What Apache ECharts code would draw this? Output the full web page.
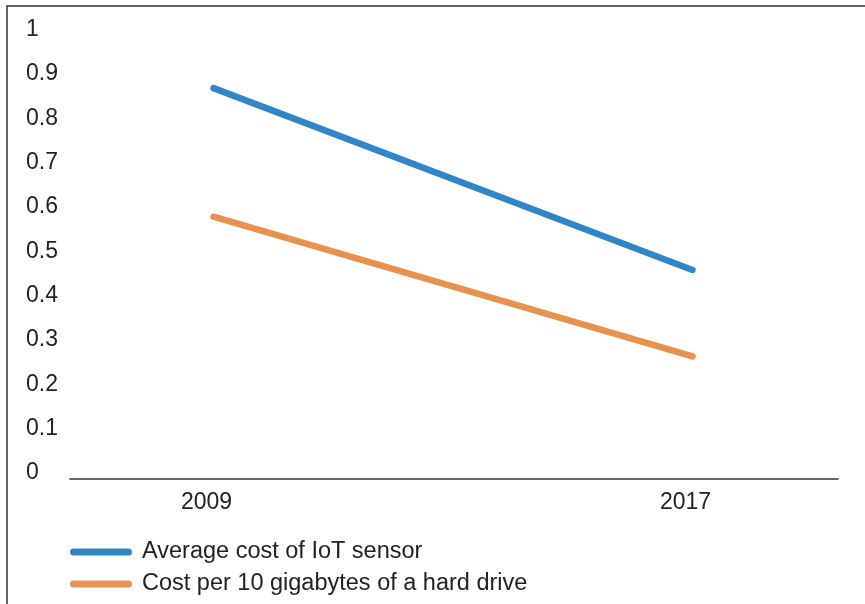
<!DOCTYPE html>
<html>
<head>
<meta charset="utf-8">
<script src="https://cdn.jsdelivr.net/npm/echarts@6/dist/echarts.min.js"></script>
<style>
  html, body { margin: 0; padding: 0; background: #fff; }
  #chart { width: 865px; height: 604px; }
</style>
</head>
<body>
<div id="chart"></div>
<script>
// Years on the horizontal axis
const years = [2009, 2017];
// Average cost of an IoT sensor (USD)
const sensorCost = [0.86, 0.45];
// Cost per 10 GB of hard-drive storage (USD)
const driveCost = [0.57, 0.255];
const seriesNames = ['Average cost of IoT sensor', 'Cost per 10 gigabytes of a hard drive'];

const textColor = '#222';
const fontFamily = '"Liberation Sans", Arial, sans-serif';

const chart = echarts.init(document.getElementById('chart'));

const pairs = vals => years.map((y, i) => [y, vals[i]]);

chart.setOption({
  animation: false,
  backgroundColor: '#fff',
  textStyle: { fontFamily: fontFamily, color: textColor },
  graphic: [{
    type: 'rect',
    shape: { x: 7, y: 6, width: 1000, height: 800 },
    style: { fill: 'none', stroke: '#333', lineWidth: 1.5 },
    silent: true
  }],
  grid: { left: 70, right: 27, top: 26, bottom: 134.5 },
  xAxis: {
    type: 'value',
    min: 2006.603,
    max: 2019.43,
    offset: 9.5,
    axisLine: { show: true, onZero: false, lineStyle: { color: '#333', width: 1.5 } },
    axisTick: { show: false },
    splitLine: { show: false },
    axisLabel: {
      customValues: years,
      fontSize: 23,
      color: textColor,
      margin: 12,
      padding: [0, 14, 0, 0],
      formatter: v => String(v)
    }
  },
  yAxis: {
    type: 'value',
    min: 0,
    max: 1,
    interval: 0.1,
    axisLine: { show: false },
    axisTick: { show: false },
    splitLine: { show: false },
    axisLabel: {
      align: 'left',
      margin: 44,
      color: textColor,
      formatter: v => '{t|' + v + '}',
      rich: {
        t: { fontSize: 23, color: textColor, fontFamily: fontFamily, padding: [7, 0, 0, 0] }
      }
    }
  },
  legend: {
    orient: 'vertical',
    left: 70,
    top: 539,
    height: 65,
    padding: 0,
    itemWidth: 62,
    itemHeight: 7,
    itemGap: 6,
    icon: 'path://M3.5,0 L58.5,0 A3.5,3.5 0 0 1 58.5,7 L3.5,7 A3.5,3.5 0 0 1 3.5,0 Z',
    textStyle: { fontSize: 23.5, lineHeight: 26, color: textColor, padding: [0, 0, 0, 5] },
    data: seriesNames
  },
  series: [
    {
      name: seriesNames[0],
      type: 'line',
      data: pairs(sensorCost),
      symbol: 'none',
      color: '#3186c8',
      lineStyle: { width: 6.5, cap: 'round', color: '#3186c8' }
    },
    {
      name: seriesNames[1],
      type: 'line',
      data: pairs(driveCost),
      symbol: 'none',
      color: '#e9924f',
      lineStyle: { width: 6.5, cap: 'round', color: '#e9924f' }
    }
  ]
});
</script>
</body>
</html>
